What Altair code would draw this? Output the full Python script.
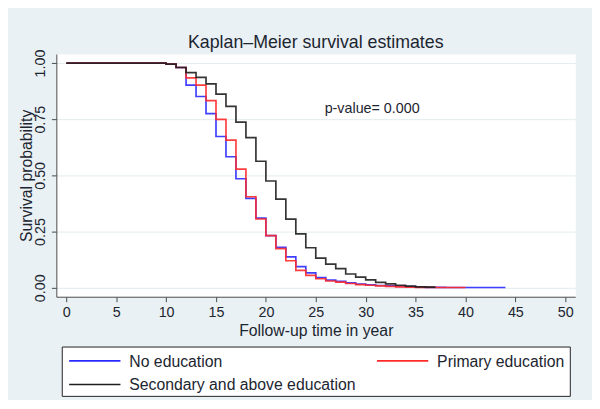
import altair as alt
import pandas as pd

# ---------------- data ----------------
groups = ["No education", "Primary education", "Secondary and above education"]
colors = ["#2a2aff", "#ff2a2a", "#1e1e1e"]

time_no = [0, 10, 11, 12, 13, 14, 15, 16, 17, 18, 19, 20, 21, 22, 23, 24, 25, 26,
           27, 28, 29, 30, 31, 32, 33, 34, 35, 36, 38, 44]
surv_no = [1.0, 0.995, 0.98, 0.902, 0.851, 0.775, 0.673, 0.583, 0.485, 0.398, 0.31,
           0.232, 0.18, 0.137, 0.094, 0.066, 0.045, 0.034, 0.028, 0.022, 0.016,
           0.013, 0.01, 0.008, 0.006, 0.005, 0.003, 0.002, 0.001, 0.001]

time_pri = [0, 10, 11, 12, 13, 14, 15, 16, 17, 18, 19, 20, 21, 22, 23, 24, 25, 26,
            27, 28, 29, 30, 31, 32, 33, 34, 35, 37, 40]
surv_pri = [1.0, 0.995, 0.98, 0.934, 0.902, 0.833, 0.749, 0.657, 0.528, 0.405, 0.306,
            0.232, 0.174, 0.12, 0.077, 0.055, 0.04, 0.03, 0.025, 0.019, 0.014,
            0.011, 0.008, 0.006, 0.004, 0.003, 0.002, 0.001, 0.001]

time_sec = [0, 10, 11, 12, 13, 14, 15, 16, 17, 18, 19, 20, 21, 22, 23, 24, 25, 26,
            27, 28, 29, 30, 31, 32, 33, 34, 35, 36, 37]
surv_sec = [1.0, 0.995, 0.98, 0.957, 0.936, 0.907, 0.862, 0.807, 0.737, 0.668, 0.563,
            0.475, 0.394, 0.305, 0.24, 0.178, 0.132, 0.105, 0.085, 0.061, 0.047,
            0.035, 0.024, 0.017, 0.011, 0.007, 0.004, 0.003, 0.003]

x_ticks = [0, 5, 10, 15, 20, 25, 30, 35, 40, 45, 50]
y_ticks = [0.0, 0.25, 0.5, 0.75, 1.0]

title_text = "Kaplan\u2013Meier survival estimates"
x_title = "Follow-up time in year"
y_title = "Survival probability"
p_text = "p-value= 0.000"

# ---------------- build table ----------------
series = [(time_no, surv_no), (time_pri, surv_pri), (time_sec, surv_sec)]
rows = []
for g, (ts, ss) in zip(groups, series):
    for t, s in zip(ts, ss):
        rows.append({"group": g, "time": t, "surv": s})
df = pd.DataFrame(rows)

FONT = "Liberation Sans"
TXT = "#1c2530"
AXC = "#4a4a4a"
W, H = 526, 246

x_enc = alt.X(
    "time:Q",
    scale=alt.Scale(domain=[-1, 51], nice=False, zero=False),
    axis=alt.Axis(values=x_ticks, title=x_title, grid=False, tickSize=5,
                  labelPadding=15, labelBaseline="alphabetic", labelFontSize=14.5,
                  titleFontSize=16, titleFontWeight="normal", titleBaseline="alphabetic",
                  titleY=39, labelFlush=False),
)
y_enc = alt.Y(
    "surv:Q",
    scale=alt.Scale(domain=[-0.04, 1.04], nice=False, zero=False),
    axis=alt.Axis(values=y_ticks, format=".2f", title=y_title, grid=True, tickSize=5,
                  labelAngle=-90, labelAlign="center", labelBaseline="alphabetic",
                  labelPadding=7, labelFontSize=14.5, labelFlush=False,
                  titleFontSize=16, titleFontWeight="normal", titleAngle=-90,
                  titleBaseline="alphabetic", titleAlign="center", titleX=-25,
                  titleY=H / 2),
)
color_enc = alt.Color("group:N", scale=alt.Scale(domain=groups, range=colors), legend=None)

layers = []
for g in groups:
    layers.append(
        alt.Chart(df)
        .transform_filter(alt.datum.group == g)
        .mark_line(interpolate="step-after", strokeWidth=1.7, opacity=0.9)
        .encode(x=x_enc, y=y_enc, color=color_enc)
    )

ptext = alt.Chart(pd.DataFrame({"label": [p_text]})).mark_text(
    align="left", baseline="middle", fontSize=14.5, font=FONT, color=TXT
).encode(x=alt.value(272), y=alt.value(56), text="label:N")
layers.append(ptext)

# ---------------- legend (drawn below the plot) ----------------
box = alt.Chart(pd.DataFrame({"k": [0]})).mark_rect(
    fill="white", stroke="#222222", strokeWidth=1
).encode(x=alt.value(6), x2=alt.value(521), y=alt.value(297), y2=alt.value(347))
layers.append(box)

legend_pos = [(13, 311), (325, 311), (13, 335)]
for g, c, (lx, ly) in zip(groups, colors, legend_pos):
    layers.append(
        alt.Chart(pd.DataFrame({"label": [g]})).mark_rule(color=c, strokeWidth=1.7)
        .encode(x=alt.value(lx), x2=alt.value(lx + 52), y=alt.value(ly))
    )
    layers.append(
        alt.Chart(pd.DataFrame({"label": [g]})).mark_text(
            align="left", baseline="middle", fontSize=16, font=FONT, color=TXT
        ).encode(x=alt.value(lx + 61), y=alt.value(ly + 1), text="label:N")
    )

chart = (
    alt.layer(*layers)
    .properties(
        width=W,
        height=H,
        title=alt.TitleParams(text=title_text, fontSize=18, font=FONT, color=TXT,
                              fontWeight="normal", anchor="middle", frame="group",
                              baseline="alphabetic", offset=1, dy=18),
        padding={"left": 49, "top": 44, "right": 17, "bottom": 102},
        autosize=alt.AutoSizeParams(type="none"),
        background="#e9f1f4",
    )
    .configure_view(fill="white", stroke="transparent")
    .configure_axis(labelFont=FONT, titleFont=FONT, labelColor=TXT, titleColor=TXT,
                    domainColor=AXC, tickColor=AXC, gridColor="#e3ecef", gridWidth=1)
)

chart.save("out.html", embed_options={"renderer": "svg", "actions": False})
